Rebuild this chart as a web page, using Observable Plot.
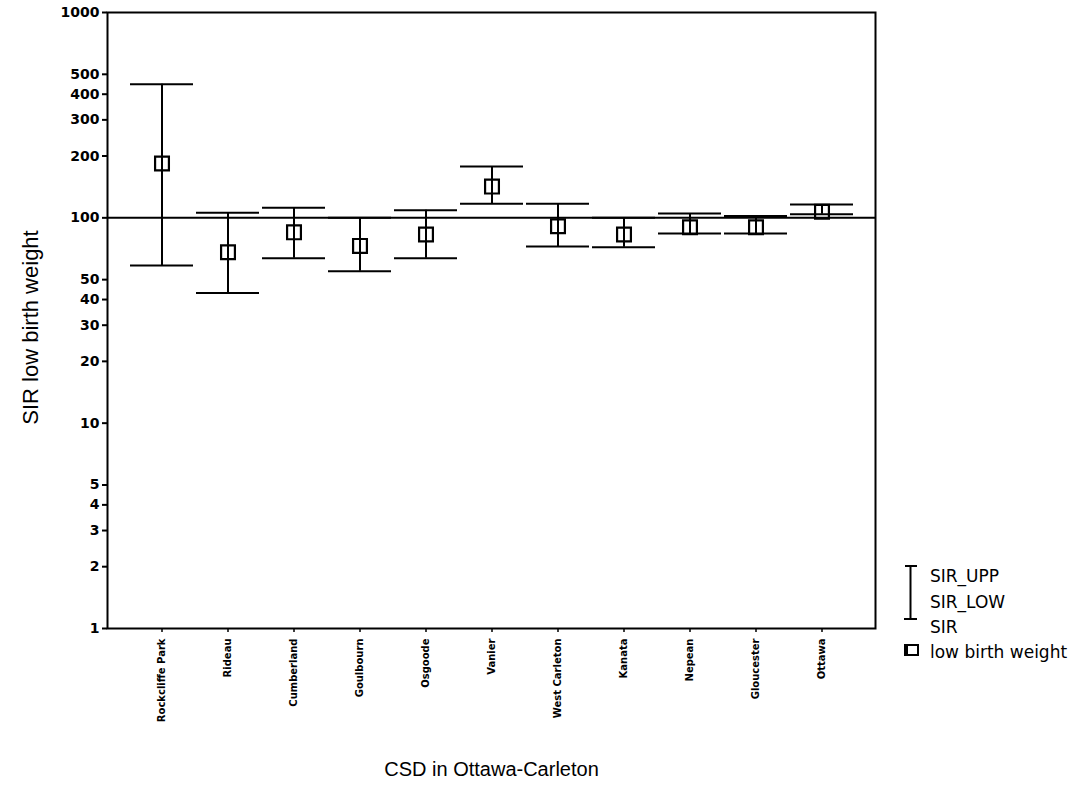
<!DOCTYPE html>
<html>
<head>
<meta charset="utf-8">
<script src="https://cdn.jsdelivr.net/npm/d3@7"></script>
<script src="https://cdn.jsdelivr.net/npm/@observablehq/plot@0.6"></script>
<style>
  html, body { margin: 0; padding: 0; background: #fff; }
  #wrap { position: relative; width: 1077px; height: 795px; }
  #legend { position: absolute; left: 0; top: 0; pointer-events: none; }
</style>
</head>
<body>
<div id="wrap"></div>
<script>
const districts = ["Rockcliffe Park", "Rideau", "Cumberland", "Goulbourn", "Osgoode", "Vanier",
  "West Carleton", "Kanata", "Nepean", "Gloucester", "Ottawa"];
const sir    = [184, 68, 85, 73, 83, 142, 91, 83, 90, 90, 107];
const sirUpp = [447, 106, 112, 100, 109, 178, 117, 100, 105, 102, 116];
const sirLow = [58.6, 43, 63.5, 55, 63.5, 117, 72.6, 72, 84, 84, 104];
const yTicks = [1, 2, 3, 4, 5, 10, 20, 30, 40, 50, 100, 200, 300, 400, 500, 1000];
const refValue = [100];
const yTitle = "SIR low birth weight";
const xTitle = "CSD in Ottawa-Carleton";
const legendLabels = ["SIR_UPP", "SIR_LOW", "SIR", "low birth weight"];

const data = districts.map((d, i) => ({d, sir: sir[i], upp: sirUpp[i], low: sirLow[i]}));

const chart = Plot.plot({
  width: 1077,
  height: 795,
  marginLeft: 107,
  marginRight: 202,
  marginTop: 12,
  marginBottom: 167,
  style: {fontFamily: "DejaVu Sans, sans-serif", color: "black", background: "white"},
  x: {type: "band", domain: districts, paddingInner: 0.053, paddingOuter: 0.30, label: null},
  y: {type: "log", domain: [1, 1000], label: null},
  marks: [
    Plot.frame({stroke: "black", strokeWidth: 2}),
    Plot.ruleY(refValue, {stroke: "black", strokeWidth: 2}),
    Plot.ruleX(data, {x: "d", y1: "low", y2: "upp", stroke: "black", strokeWidth: 2}),
    Plot.tickY(data, {x: "d", y: "upp", stroke: "black", strokeWidth: 2}),
    Plot.tickY(data, {x: "d", y: "low", stroke: "black", strokeWidth: 2}),
    Plot.dot(data, {x: "d", y: "sir", symbol: "square", r: 7.8, fill: "none", stroke: "black", strokeWidth: 2.2}),
    Plot.axisY({ticks: yTicks, tickSize: 5, fill: "none", label: null, strokeWidth: 2}),
    Plot.text(yTicks, {y: d => d, text: d => String(d), frameAnchor: "left", textAnchor: "end",
      dx: -8, fontSize: 14, fontWeight: "bold", fill: "black"}),
    Plot.axisX({tickRotate: -90, tickSize: 4, tickPadding: 6, fontSize: 10, fontWeight: "bold",
      label: null, strokeWidth: 1.5}),
    Plot.text([yTitle], {frameAnchor: "left", textAnchor: "middle", rotate: -90, dx: -77, dy: 7,
      fontSize: 22, fontFamily: "Liberation Sans, Arial, sans-serif", fill: "black"}),
    Plot.text([xTitle], {frameAnchor: "bottom", dy: 147, fontSize: 20,
      fontFamily: "Liberation Sans, Arial, sans-serif", fill: "black"})
  ]
});
document.getElementById("wrap").appendChild(chart);

// Legend overlay
const lg = d3.select("#wrap").append("svg").attr("id", "legend")
  .attr("width", 1077).attr("height", 795);
const g = lg.append("g").attr("stroke", "black").attr("stroke-width", 2).attr("fill", "none");
g.append("line").attr("x1", 910.5).attr("x2", 910.5).attr("y1", 566).attr("y2", 619);
g.append("line").attr("x1", 905).attr("x2", 917).attr("y1", 566).attr("y2", 566);
g.append("line").attr("x1", 904).attr("x2", 917).attr("y1", 619).attr("y2", 619);
lg.append("rect").attr("x", 904).attr("y", 644).attr("width", 12).attr("height", 12)
  .attr("fill", "black");
lg.append("rect").attr("x", 907).attr("y", 645).attr("width", 11).attr("height", 10)
  .attr("fill", "white").attr("stroke", "black").attr("stroke-width", 2);
const ly = [582, 608, 633, 658];
lg.selectAll("text.lg").data(legendLabels).join("text")
  .attr("x", 930).attr("y", (d, i) => ly[i])
  .attr("font-family", "DejaVu Sans, sans-serif").attr("font-size", 17)
  .attr("fill", "black").text(d => d);
</script>
</body>
</html>
